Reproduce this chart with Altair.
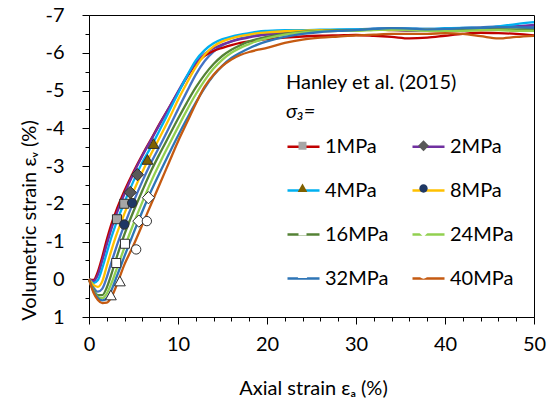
import altair as alt
import pandas as pd

FONT = "Lato"

# ---- data -------------------------------------------------------------
SERIES = ["1MPa", "2MPa", "4MPa", "8MPa", "16MPa", "24MPa", "32MPa", "40MPa"]
LINE_COLORS = ["#C00000", "#7030A0", "#00B0F0", "#FFC000", "#548235", "#92D050", "#2E75B6", "#C55A11"]
MARKER_FILLS = ["#A6A6A6", "#595959", "#7F6000", "#1F3864", "#FFFFFF", "#FFFFFF", "#FFFFFF", "#FFFFFF"]

X = [0, 0.5, 1, 1.5, 2, 2.5, 3, 4, 5, 6, 7, 8, 9, 10, 11, 12, 13, 14, 15, 16, 17, 18, 19, 20,
     22, 24, 26, 28, 30, 32, 34, 36, 38, 40, 42, 44, 46, 48, 50]

Y_1 = [0, 0.02, -0.2, -0.6, -1.05, -1.45, -1.78, -2.35, -2.85, -3.3, -3.72, -4.15, -4.55, -4.95, -5.35, -5.7,
       -5.92, -6.05, -6.13, -6.2, -6.26, -6.3, -6.33, -6.36, -6.4, -6.43, -6.45, -6.46, -6.47, -6.45, -6.42,
       -6.38, -6.4, -6.45, -6.5, -6.53, -6.52, -6.5, -6.46]
Y_2 = [0, 0.05, -0.12, -0.5, -0.92, -1.32, -1.67, -2.27, -2.8, -3.27, -3.7, -4.13, -4.55, -4.97, -5.38, -5.73,
       -5.97, -6.12, -6.22, -6.3, -6.36, -6.41, -6.45, -6.48, -6.52, -6.55, -6.57, -6.58, -6.6, -6.62, -6.6,
       -6.58, -6.6, -6.62, -6.63, -6.62, -6.66, -6.7, -6.74]
Y_4 = [0, 0.1, 0.02, -0.3, -0.7, -1.1, -1.45, -2.05, -2.6, -3.1, -3.52, -3.98, -4.45, -4.92, -5.38, -5.8,
       -6.07, -6.25, -6.36, -6.43, -6.48, -6.52, -6.56, -6.58, -6.6, -6.6, -6.61, -6.62, -6.62, -6.63, -6.64,
       -6.64, -6.63, -6.65, -6.66, -6.65, -6.7, -6.76, -6.81]
Y_8 = [0, 0.15, 0.2, 0.05, -0.35, -0.75, -1.12, -1.75, -2.33, -2.85, -3.33, -3.78, -4.25, -4.75, -5.2, -5.62,
       -5.95, -6.17, -6.3, -6.38, -6.44, -6.48, -6.52, -6.54, -6.57, -6.58, -6.6, -6.6, -6.6, -6.61, -6.6,
       -6.6, -6.62, -6.62, -6.6, -6.6, -6.62, -6.6, -6.6]
Y_16 = [0, 0.27, 0.42, 0.42, 0.22, -0.12, -0.5, -1.2, -1.8, -2.35, -2.88, -3.35, -3.8, -4.25, -4.68, -5.08,
        -5.42, -5.7, -5.92, -6.08, -6.2, -6.3, -6.37, -6.42, -6.5, -6.55, -6.58, -6.6, -6.6, -6.62, -6.63,
        -6.62, -6.6, -6.6, -6.62, -6.63, -6.62, -6.62, -6.63]
Y_24 = [0, 0.3, 0.47, 0.5, 0.38, 0.12, -0.2, -0.85, -1.47, -2.05, -2.6, -3.1, -3.57, -4.03, -4.48, -4.9,
        -5.27, -5.58, -5.82, -6.0, -6.13, -6.23, -6.32, -6.38, -6.48, -6.54, -6.57, -6.58, -6.58, -6.6, -6.61,
        -6.6, -6.58, -6.58, -6.58, -6.6, -6.6, -6.58, -6.58]
Y_32 = [0, 0.32, 0.5, 0.56, 0.5, 0.3, 0.0, -0.62, -1.22, -1.8, -2.35, -2.85, -3.33, -3.8, -4.25, -4.68,
        -5.07, -5.4, -5.66, -5.86, -6.0, -6.12, -6.22, -6.3, -6.42, -6.5, -6.55, -6.58, -6.6, -6.63, -6.65,
        -6.64, -6.62, -6.63, -6.65, -6.66, -6.68, -6.68, -6.66]
Y_40 = [0, 0.35, 0.55, 0.63, 0.62, 0.48, 0.22, -0.4, -0.9, -1.45, -2.0, -2.55, -3.1, -3.65, -4.15, -4.65,
        -5.1, -5.42, -5.65, -5.82, -5.94, -6.02, -6.08, -6.13, -6.26, -6.35, -6.4, -6.43, -6.46, -6.48, -6.5,
        -6.5, -6.5, -6.52, -6.5, -6.44, -6.38, -6.42, -6.45]
# additional (unlabelled) curve drawn in the reference between 8MPa and 16MPa
Y_EXTRA = [0, 0.22, 0.33, 0.25, -0.05, -0.43, -0.8, -1.45, -2.05, -2.6, -3.1, -3.55, -4.02, -4.5, -4.97, -5.42,
           -5.78, -6.03, -6.2, -6.3, -6.38, -6.43, -6.47, -6.5, -6.54, -6.56, -6.58, -6.6, -6.62, -6.64, -6.65,
           -6.64, -6.63, -6.64, -6.66, -6.67, -6.7, -6.7, -6.68]
Y_ALL = [Y_1, Y_2, Y_4, Y_8, Y_16, Y_24, Y_32, Y_40]

# markers
MK_SERIES = ["1MPa", "1MPa", "2MPa", "2MPa", "4MPa", "4MPa", "8MPa", "8MPa",
             "16MPa", "16MPa", "24MPa", "24MPa", "32MPa", "32MPa", "40MPa", "40MPa"]
MK_X = [3.14, 3.96, 4.63, 5.45, 6.57, 7.25, 3.96, 4.85, 3.06, 4.04, 5.6, 6.68, 2.46, 3.47, 5.3, 6.5]
MK_Y = [-1.59, -2.0, -2.30, -2.77, -3.15, -3.57, -1.45, -2.02, -0.43, -0.94, -1.54, -2.16, 0.44, 0.07, -0.79, -1.54]

X_TICKS = [0, 2, 4, 6, 8, 10, 12, 14, 16, 18, 20, 22, 24, 26, 28, 30, 32, 34, 36, 38, 40, 42, 44, 46, 48, 50]
Y_TICKS = [-7, -6.5, -6, -5.5, -5, -4.5, -4, -3.5, -3, -2.5, -2, -1.5, -1, -0.5, 0, 0.5, 1]

# ---- marker shapes (unit box, with invisible extent to match line symbols)
B = "M-1,0M1,0"
SQ = B + "M-0.25,-0.25H0.25V0.25H-0.25Z"
DI = B + "M0,-0.34L0.34,0L0,0.34L-0.34,0Z"
TR = B + "M0,-0.32L0.3,0.22H-0.3Z"
CI = B + "M-0.26,0A0.26,0.26,0,1,0,0.26,0A0.26,0.26,0,1,0,-0.26,0Z"
SHAPES = [SQ, DI, TR, CI, SQ, DI, TR, CI]

# ---- tables -------------------------------------------------------------
rows = []
for i, (s, ys) in enumerate(zip(SERIES, Y_ALL)):
    for xv, yv in zip(X, ys):
        rows.append({"series": s, "order": i, "x": xv, "y": yv})
line_df = pd.DataFrame(rows)
extra_df = pd.DataFrame({"x": X, "y": Y_EXTRA})
mk_df = pd.DataFrame({"series": MK_SERIES, "order": [SERIES.index(s) for s in MK_SERIES],
                      "x": MK_X, "y": MK_Y})

# ---- axes -------------------------------------------------------------
x_axis = alt.Axis(
    values=X_TICKS,
    labelExpr="datum.value % 10 === 0 ? '' + datum.value : ''",
    tickSize={"condition": {"test": "datum.value % 10 === 0", "value": 7}, "value": 4},
    labelPadding=10, labelFlush=False, labelOverlap=False,
    titleBaseline="alphabetic", titleY=77, titleX=224,
)
y_axis = alt.Axis(
    values=Y_TICKS,
    labelExpr="datum.value % 1 === 0 ? '' + datum.value : ''",
    tickSize={"condition": {"test": "datum.value % 1 === 0", "value": 7}, "value": 4},
    labelPadding=18, labelFlush=False, labelOverlap=False,
    titleAngle=270, titleBaseline="alphabetic", titleX=-54, titleY=205,
)
xenc = alt.X("x:Q", scale=alt.Scale(domain=[0, 50], nice=False, zero=False), axis=x_axis,
             title="Axial strain εₐ (%)")
yenc = alt.Y("y:Q", scale=alt.Scale(domain=[-7, 1], reverse=True, nice=False, zero=False), axis=y_axis,
             title="Volumetric strain εᵥ (%)")

common_legend = dict(
    orient="none", legendX=197, legendY=58, columns=2, direction="horizontal", padding=0,
    labelFont=FONT, labelFontSize=20, labelColor="black", labelOffset=4,
    titleFont=FONT, titleFontSize=20, titleFontWeight="normal", titleColor="black",
    titleLineHeight=29, titlePadding=7, columnPadding=18, rowPadding=16, symbolSize=1024,
)
line_legend = alt.Legend(title=["Hanley et al. (2015)", " "], symbolType="stroke",
                         symbolStrokeWidth=2.5, **common_legend)
mk_legend = alt.Legend(title=[" ", "σ₃="], titleFontStyle="italic", labelOpacity=0,
                       symbolStrokeColor="#303030", symbolStrokeWidth=1, **common_legend)

order_sort = alt.EncodingSortField(field="order", op="min")

extra = alt.Chart(extra_df).mark_line(strokeWidth=2.3, interpolate="monotone", color="#4472C4").encode(
    x=xenc, y=yenc)
lines = alt.Chart(line_df).mark_line(strokeWidth=2.3, interpolate="monotone").encode(
    x=xenc, y=yenc,
    color=alt.Color("series:N", sort=order_sort, scale=alt.Scale(range=LINE_COLORS), legend=line_legend),
)
points = alt.Chart(mk_df).mark_point(filled=True, opacity=1, size=1296, stroke="#303030", strokeWidth=1).encode(
    x=xenc, y=yenc,
    fill=alt.Fill("series:N", sort=order_sort, scale=alt.Scale(range=MARKER_FILLS), legend=mk_legend),
    shape=alt.Shape("series:N", sort=order_sort, scale=alt.Scale(range=SHAPES), legend=mk_legend),
)

chart = alt.layer(extra, lines, points).properties(
    width=445, height=302,
    padding={"left": 89, "top": 15, "right": 21, "bottom": 87},
    autosize=alt.AutoSizeParams(type="none"),
    background="white",
).configure_view(stroke="black", strokeWidth=1).configure_axis(
    grid=False, domainColor="black", domainWidth=1, tickColor="black", tickWidth=1,
    labelFont=FONT, labelFontSize=20, labelColor="black",
    titleFont=FONT, titleFontSize=20, titleFontWeight="normal", titleColor="black",
)

chart.save("out.html", embed_options={"renderer": "svg", "actions": False})
